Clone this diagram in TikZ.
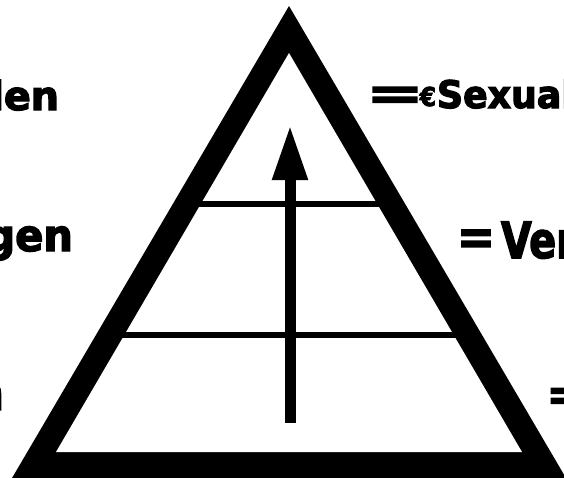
\documentclass[tikz,border=0pt]{standalone}
\usepackage{fontspec}
\newfontfamily\cf{DejaVu Sans Condensed Bold}[FakeBold=3]
\usetikzlibrary{arrows.meta}
\begin{document}
\begin{tikzpicture}[x=1pt,y=-1pt,
  lbl/.style={inner sep=0pt, outer sep=0pt, text=black},
  bar/.style={line width=6pt, black},
  shaft/.style={line width=11pt, black, -{Triangle[length=55pt,width=33pt]}}]
\useasboundingbox (0,0) rectangle (564,477);
\clip (0,0) rectangle (564,477);
% triangle
\coordinate (OA) at (289,6);
\coordinate (OL) at (5,490);
\coordinate (OR) at (573,490);
\coordinate (IA) at (289,53);
\coordinate (IL) at (56,452);
\coordinate (IR) at (522,452);
\fill[black] (OA) -- (OL) -- (OR) -- cycle;
\fill[white] (IA) -- (IL) -- (IR) -- cycle;
% levels
\coordinate (L1a) at (188,204); \coordinate (L1b) at (392,204);
\coordinate (L2a) at (110,335); \coordinate (L2b) at (468,335);
\draw[bar] (L1a) -- (L1b);
\draw[bar] (L2a) -- (L2b);
% arrow
\coordinate (AB) at (290,423);
\coordinate (AT) at (290,125);
\draw[shaft] (AB) -- (AT);
% left labels
\node[lbl, font=\cf\fontsize{40}{42}\selectfont, anchor=base east] (tl1) at (59,110) {\scalebox{1.1}[1]{len}};
\node[lbl, font=\cf\fontsize{44}{46}\selectfont, anchor=base east] (tl2) at (73,251) {\scalebox{1.05}[1]{gen}};
\node[lbl, font=\cf\fontsize{48}{50}\selectfont, anchor=base east] (tl3) at (4,410) {n};
% right labels
\node[lbl, font=\cf\fontsize{45}{47}\selectfont, anchor=center] (eq1) at (395,98) {\scalebox{1.7}[1]{=}};
\node[lbl, font=\cf\fontsize{26}{28}\selectfont, anchor=base east] (eu1) at (436,106) {€};
\node[lbl, font=\cf\fontsize{38}{40}\selectfont, anchor=base west] (tr1) at (437,108) {\scalebox{1.06}[1]{Sexual}};
\node[lbl, font=\cf\fontsize{50}{52}\selectfont, anchor=center] (eq2) at (476,242) {=};
\node[lbl, font=\cf\fontsize{50}{52}\selectfont, anchor=base west] (tr2) at (501,258) {\scalebox{0.88}[1]{Ver}};
\node[lbl, font=\cf\fontsize{45}{47}\selectfont, anchor=base west] (tr3) at (547,410) {=};
\end{tikzpicture}
\end{document}
